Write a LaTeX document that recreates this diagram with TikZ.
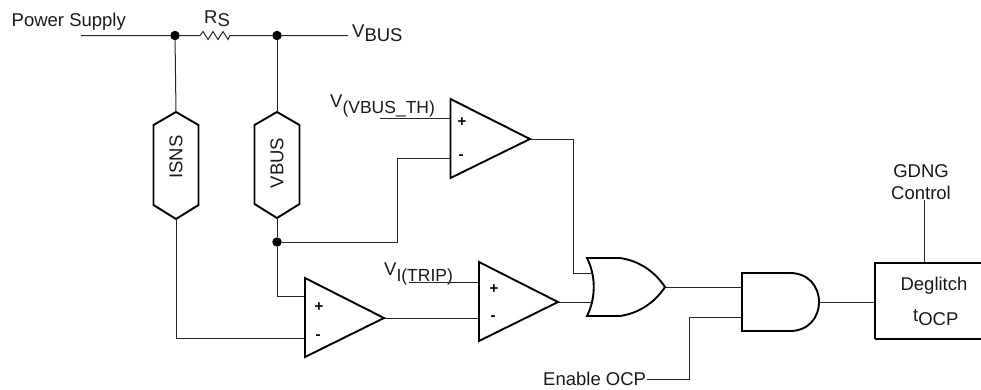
\documentclass[tikz,border=0pt]{standalone}
\usepackage{fontspec}
\setmainfont{Liberation Sans}
\tikzset{
  wire/.style={line width=1pt,draw=black!85,line join=miter},
  thick shape/.style={line width=1.9pt,draw=black,fill=white,line join=miter},
  dotnode/.style={circle,fill=black,inner sep=0pt,minimum size=9.5pt},
  lbl/.style={inner sep=0pt,text=black!90,font=\fontsize{18.5}{22}\selectfont},
  sgn/.style={inner sep=0pt,font=\fontsize{15}{16}\bfseries\selectfont}
}
\newcommand{\lowered}[3]{#1\raisebox{-#3pt}{#2}}
\begin{document}
\begin{tikzpicture}[x=1pt,y=-1pt]
\useasboundingbox (0,0) rectangle (981,389);
% labels
\node[lbl,anchor=base west] (ps) at (11.5,26) {Power Supply};
\node[lbl,anchor=base west] (rs) at (204,23) {\lowered{R}{S}{3}};
\node[lbl,anchor=base west] (vbus) at (352,37) {\lowered{V}{BUS}{4}};
\node[lbl,anchor=base west] (vth) at (330,107) {\lowered{V}{\fontsize{17.5}{20}\selectfont (VBUS\_TH)}{6}};
\node[lbl,anchor=base west] (vtrip) at (384,275) {\lowered{V}{\fontsize{17.5}{20}\selectfont I(TRIP)}{6}};
\node[lbl,anchor=base west] (en) at (543,385) {Enable OCP};
\node[lbl,anchor=base] (gd) at (921,177) {GDNG};
\node[lbl,anchor=base] (ct) at (921,199) {Control};
% junctions
\node[dotnode] (j1) at (175,35.5) {};
\node[dotnode] (j2) at (277,35.5) {};
\node[dotnode] (j3) at (277,242) {};
\coordinate (psend) at (81,35.5);
\coordinate (vend) at (348,35.5);
\coordinate (ra) at (200,35.5);
\coordinate (rb) at (230,35.5);
% resistor
\draw[wire] (psend) -- (j1) -- (ra)
  -- ++(3,-4) -- ++(5,8) -- ++(5,-8) -- ++(5,8) -- ++(5,-8) -- ++(5,8) -- (rb) -- (j2) -- (vend);
% hexagon sense blocks
\coordinate (ia) at (176,112); \coordinate (ib) at (176,219);
\coordinate (va) at (277,112); \coordinate (vb) at (277,218);
\draw[thick shape] (ia) -- (198.5,125) -- (198.5,205) -- (ib) -- (153.5,205) -- (153.5,125) -- cycle;
\draw[thick shape] (va) -- (299.5,125) -- (299.5,204) -- (vb) -- (254.5,204) -- (254.5,125) -- cycle;
\node[lbl,rotate=90] (isns) at (176,157) {ISNS};
\node[lbl,rotate=90] (vbl) at (277,163) {VBUS};
% comparator pins
\coordinate (c1p) at (450.5,118); \coordinate (c1m) at (450.5,158); \coordinate (c1o) at (530,139);
\coordinate (c2p) at (305,296); \coordinate (c2m) at (305,338); \coordinate (c2o) at (384,318);
\coordinate (c3p) at (479,282); \coordinate (c3m) at (479,318); \coordinate (c3o) at (558,302);
\coordinate (vthin) at (380,118); \coordinate (vtripin) at (409,282);
% gate pins
\coordinate (or1) at (591,273); \coordinate (or2) at (592,302); \coordinate (oro) at (665,287);
\coordinate (and1) at (742,287); \coordinate (and2) at (742,317); \coordinate (ando) at (819,302);
\coordinate (enend) at (647,379);
\coordinate (boxl) at (875,302); \coordinate (boxt) at (924.5,263); \coordinate (gdngend) at (924.5,200);
% wires
\draw[wire] (j1) -- (ia);
\draw[wire] (j2) -- (va);
\draw[wire] (vb) -- (j3) -- (277,296) -- (c2p);
\draw[wire] (ib) -- (176,338) -- (c2m);
\draw[wire] (j3) -- (397,242) -- (397,158) -- (c1m);
\draw[wire] (vthin) -- (c1p);
\draw[wire] (vtripin) -- (c3p);
\draw[wire] (c2o) -- (c3m);
\draw[wire] (c1o) -- (573,139) -- (573,273) -- (or1);
\draw[wire] (c3o) -- (or2);
\draw[wire] (oro) -- (and1);
\draw[wire] (enend) -- (689,379) -- (689,317) -- (and2);
\draw[wire] (ando) -- (boxl);
\draw[wire] (gdngend) -- (boxt);
% comparators
\draw[thick shape,fill=none] (450.5,99) -- (c1o) -- (450.5,178) -- cycle;
\draw[thick shape,fill=none] (305,278) -- (c2o) -- (305,357) -- cycle;
\draw[thick shape,fill=none] (479,262) -- (c3o) -- (479,341) -- cycle;
\node[sgn] (s1p) at (462,122) {+}; \node[sgn] (s1m) at (461,157) {-};
\node[sgn] (s2p) at (319,307) {+}; \node[sgn] (s2m) at (318,337) {-};
\node[sgn] (s3p) at (494,289) {+}; \node[sgn] (s3m) at (493,318) {-};
% OR gate
\draw[thick shape,fill=none] (587,258) -- (620,258) .. controls (640,261) and (655,272) .. (oro)
  .. controls (655,302) and (640,313) .. (620,316) -- (587,316)
  .. controls (596,298) and (596,276) .. (587,258) -- cycle;
% AND gate
\draw[thick shape,fill=none] (742,273) -- (790,273) .. controls (808,273) and (819,286) .. (ando)
  .. controls (819,318) and (808,331) .. (790,331) -- (742,331) -- cycle;
% Deglitch box, cut by the picture's right edge
\draw[line width=1.1pt,draw=black] (981,263) -- (875,263) -- (875,339);
\draw[line width=1.9pt,draw=black] (875,339) -- (981,339);
\node[lbl,anchor=base] (dg) at (934,290) {Deglitch};
\node[lbl,anchor=base west] (tocp) at (913,321) {\lowered{t}{OCP}{4}};
\end{tikzpicture}
\end{document}
